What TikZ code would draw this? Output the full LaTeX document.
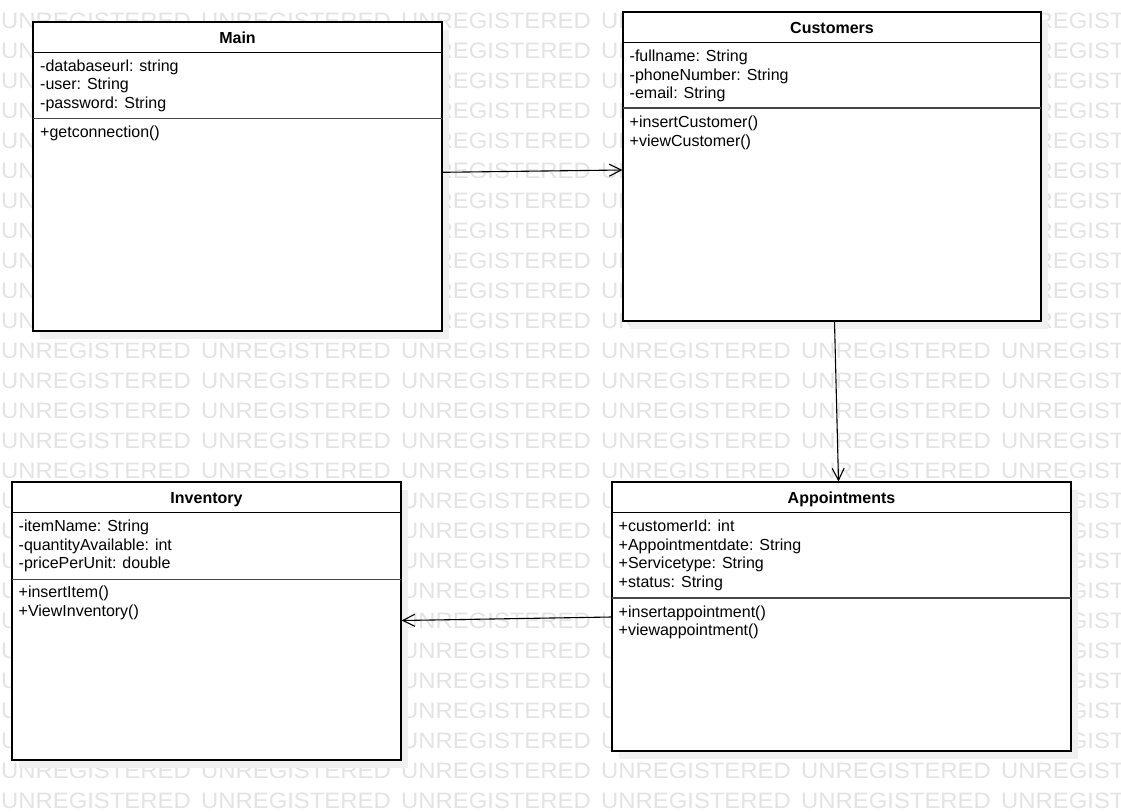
\documentclass[tikz,border=0pt]{standalone}
\usepackage{fontspec}
\usepackage{graphicx}
\setmainfont{Liberation Sans}
\usetikzlibrary{arrows.meta,calc,shadows}
\begin{document}
\begin{tikzpicture}[x=1pt,y=-1pt,
  classbox/.style={rectangle, draw=black, line width=1.1pt, fill=white, inner sep=0pt,
    drop shadow={shadow xshift=7pt, shadow yshift=-8pt, fill=black!6, opacity=1}},
  titletext/.style={anchor=base, inner sep=0pt, font=\fontsize{16}{18.7}\selectfont\bfseries},
  member/.style={anchor=base west, inner sep=0pt, font=\fontsize{16}{18.7}\selectfont},
  headline/.style={draw=black, line width=1pt},
  sepline/.style={draw=black!72, line width=1.7pt},
  assoc/.style={draw=black, line width=1.1pt,
    -{Straight Barb[length=12pt,width=12pt,line width=1.1pt]}},
  stamptext/.style={anchor=base west, inner sep=0pt, text=black!11,
    font=\fontsize{22.3}{22.3}\selectfont}
]
\useasboundingbox (0,0) rectangle (1121,811);
\fill[white] (0,0) rectangle (1121,811);

% background stamp
\foreach \r in {0,...,26}
  \foreach \c in {0,...,5}
    \node[stamptext] (wm-\r-\c) at ({1+200*\c},{28+30*\r}) {\scalebox{1.07}[1]{UNREGISTERED}};

% ---- Main ----
\node[classbox, minimum width=409pt, minimum height=309pt] (main) at (237.5,176.5) {};
\node[titletext] (main-t) at (237.5,43) {Main};
\draw[headline] ($(main.north west)+(0,31)$) -- ($(main.north east)+(0,31)$);
\draw[sepline] ($(main.north west)+(0.6,97)$) -- ($(main.north east)+(-0.6,97)$);
\foreach \t [count=\i] in {{-databaseurl: string},{-user: String},{-password: String}}
  \node[member] (main-a\i) at (40,{71+18.7*(\i-1)}) {\t};
\node[member] (main-m1) at (40,137.5) {+getconnection()};

% ---- Customers ----
\node[classbox, minimum width=418pt, minimum height=309pt] (cust) at (832,166.5) {};
\node[titletext] (cust-t) at (832,33) {Customers};
\draw[headline] ($(cust.north west)+(0,31)$) -- ($(cust.north east)+(0,31)$);
\draw[sepline] ($(cust.north west)+(0.6,96.7)$) -- ($(cust.north east)+(-0.6,96.7)$);
\foreach \t [count=\i] in {{-fullname: String},{-phoneNumber: String},{-email: String}}
  \node[member] (cust-a\i) at (629.5,{61.5+18.7*(\i-1)}) {\t};
\foreach \t [count=\i] in {{+insertCustomer()},{+viewCustomer()}}
  \node[member] (cust-m\i) at (629.5,{127.5+18.7*(\i-1)}) {\t};

% ---- Inventory ----
\node[classbox, minimum width=389pt, minimum height=278pt] (inv) at (206.5,621) {};
\node[titletext] (inv-t) at (206.5,503.5) {Inventory};
\draw[headline] ($(inv.north west)+(0,31)$) -- ($(inv.north east)+(0,31)$);
\draw[sepline] ($(inv.north west)+(0.6,98)$) -- ($(inv.north east)+(-0.6,98)$);
\foreach \t [count=\i] in {{-itemName: String},{-quantityAvailable: int},{-pricePerUnit: double}}
  \node[member] (inv-a\i) at (18.5,{531.5+18.7*(\i-1)}) {\t};
\foreach \t [count=\i] in {{+insertItem()},{+ViewInventory()}}
  \node[member] (inv-m\i) at (18.5,{597.5+18.7*(\i-1)}) {\t};

% ---- Appointments ----
\node[classbox, minimum width=459pt, minimum height=269pt] (appt) at (841.5,616.5) {};
\node[titletext] (appt-t) at (841.5,503.5) {Appointments};
\draw[headline] ($(appt.north west)+(0,31)$) -- ($(appt.north east)+(0,31)$);
\draw[sepline] ($(appt.north west)+(0.6,116.3)$) -- ($(appt.north east)+(-0.6,116.3)$);
\foreach \t [count=\i] in {{+customerId: int},{+Appointmentdate: String},{+Servicetype: String},{+status: String}}
  \node[member] (appt-a\i) at (618.5,{531.5+18.7*(\i-1)}) {\t};
\foreach \t [count=\i] in {{+insertappointment()},{+viewappointment()}}
  \node[member] (appt-m\i) at (618.5,{617+18.7*(\i-1)}) {\t};

% ---- associations ----
\draw[assoc] ($(main.east)+(0,-4.2)$) -- ($(cust.west)+(0,3.5)$);
\draw[assoc] ($(cust.south)+(2.5,0)$) -- ($(appt.north)+(-3,0)$);
\draw[assoc] ($(appt.west)+(0,0.5)$) -- ($(inv.east)+(0,-0.5)$);
\end{tikzpicture}
\end{document}
